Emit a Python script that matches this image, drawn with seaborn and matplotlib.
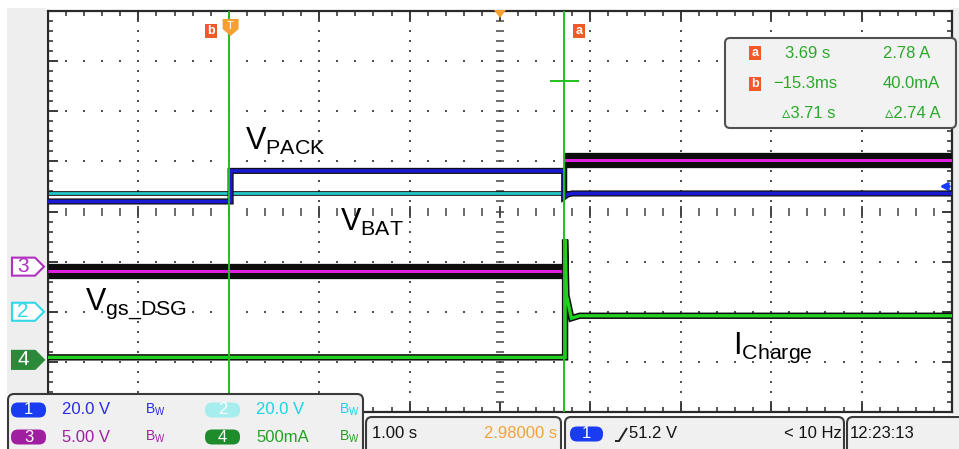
import numpy as np
import pandas as pd
import seaborn as sns
import matplotlib.pyplot as plt
from matplotlib import transforms
from matplotlib.lines import Line2D
from matplotlib.patches import FancyBboxPatch, Polygon, Rectangle

# 스코프 설정: timebase, channel scales, ground markers (div)
t_div = 1.00
t_delay = 2.98
ch1_scale, ch2_scale, ch3_scale, ch4_scale = 20.0, 20.0, 5.00, 0.5
ch1_gnd, ch2_gnd, ch3_gnd, ch4_gnd = -2.06, -2.00, -1.10, -2.96
trig_level = 51.2

# cursors a / b
cur_a_t, cur_b_t = 3.69, -0.0153
cur_a_i, cur_b_i = 2.78, 0.040

# traces
ch1_t = [-2.02, 0.0, 0.0, 3.69, 3.69, 3.73, 3.78, 7.98]
ch1_v = [45.2, 45.2, 57.4, 57.4, 47.0, 48.0, 48.4, 48.4]      # V_PACK
ch2_t = [-2.02, 7.98]
ch2_v = [47.5, 47.5]                                            # V_BAT
ch3_t = [-2.02, 3.69, 3.69, 7.98]
ch3_v = [-0.45, -0.45, 10.65, 10.65]                            # Vgs_DSG
ch3_seg = [0, 0, 1, 1]
ch4_t = [-2.02, 3.70, 3.70, 3.715, 3.77, 3.86, 7.98]
ch4_i = [0.025, 0.025, 1.2, 0.645, 0.415, 0.44, 0.44]           # I_Charge

W, H = 959, 449
sns.set_style('white')
plt.rcParams['font.family'] = ['Liberation Sans', 'DejaVu Sans']
plt.rcParams['mathtext.fontset'] = 'custom'
plt.rcParams['mathtext.rm'] = 'Liberation Sans'
plt.rcParams['lines.solid_capstyle'] = 'butt'
plt.rcParams['lines.solid_joinstyle'] = 'miter'

fig = plt.figure(figsize=(W / 100, H / 100), dpi=100)
fig.patch.set_facecolor('white')
# pixel coords (y down) -> display
px = transforms.Affine2D().scale(0.01, -0.01).translate(0, H / 100) + fig.dpi_scale_trans

ax = fig.add_axes([48 / W, 1 - 412 / H, 904 / W, 401 / H])
t_min, t_max = t_delay - 5 * t_div, t_delay + 5 * t_div


def to_df(t, v, gnd, scale, seg=None):
    df = pd.DataFrame({'t': t, 'div': gnd + np.array(v) / scale})
    df['seg'] = seg if seg is not None else 0
    return df


d1 = to_df(ch1_t, ch1_v, ch1_gnd, ch1_scale)
d2 = to_df(ch2_t, ch2_v, ch2_gnd, ch2_scale)
d3 = to_df(ch3_t, ch3_v, ch3_gnd, ch3_scale, ch3_seg)
d4 = to_df(ch4_t, ch4_i, ch4_gnd, ch4_scale)

# dotted graticule
xs = t_delay + np.arange(-25, 26) * 0.2 * t_div
ys = np.arange(-20, 21) * 0.2
gx, gy = np.meshgrid(xs[1:-1], [-3, -2, -1, 1, 2, 3])
ax.scatter(gx, gy, s=3.5, marker='s', color='#505050', lw=0, zorder=1)
cols = t_delay + np.array([-4, -3, -2, -1, 1, 2, 3, 4]) * t_div
gx, gy = np.meshgrid(cols, ys[1:-1])
ax.scatter(gx, gy, s=3.5, marker='s', color='#505050', lw=0, zorder=1)
ax.scatter(xs[1:-1], np.zeros(len(xs) - 2), marker='|', s=28, lw=1.1, color='#444444', zorder=1)
ax.scatter(xs[5:-1:5], np.zeros(len(xs[5:-1:5])), marker='|', s=70, lw=1.3, color='#444444', zorder=1)
ax.scatter(np.full(len(ys) - 2, t_delay), ys[1:-1], marker='_', s=28, lw=1.1, color='#444444', zorder=1)

# traces (black noise band under each)
sns.lineplot(data=d2, x='t', y='div', estimator=None, sort=False, color='#111111', linewidth=3.4, ax=ax, zorder=2)
sns.lineplot(data=d2, x='t', y='div', estimator=None, sort=False, color='#22c8c8', linewidth=2.0, ax=ax, zorder=2)
sns.lineplot(data=d1, x='t', y='div', estimator=None, sort=False, color='#111111', linewidth=4.4, ax=ax, zorder=3)
sns.lineplot(data=d1, x='t', y='div', estimator=None, sort=False, color='#1a1ad2', linewidth=2.6, ax=ax, zorder=3)
sns.lineplot(data=d3, x='t', y='div', units='seg', estimator=None, sort=False, color='#0d0d0d', linewidth=11,
             ax=ax, zorder=3)
sns.lineplot(data=d3, x='t', y='div', units='seg', estimator=None, sort=False, color='#e020e0', linewidth=2.2,
             ax=ax, zorder=3)
sns.lineplot(data=d4, x='t', y='div', estimator=None, sort=False, color='#0d0d0d', linewidth=4.6, ax=ax, zorder=4)
sns.lineplot(data=d4, x='t', y='div', estimator=None, sort=False, color='#22d022', linewidth=2.4, ax=ax, zorder=4)

# cursors
for ct in (cur_a_t, cur_b_t):
    ax.axvline(ct, color='#1fc01f', lw=1.4, zorder=6)
ya = ch4_gnd + cur_a_i / ch4_scale
ax.plot([cur_a_t - 0.16 * t_div, cur_a_t + 0.16 * t_div], [ya, ya], color='#1fc01f', lw=1.4, zorder=6)

# trigger level arrow (ch1)
lvl = ch1_gnd + trig_level / ch1_scale
ax.annotate('', xy=(t_max - 0.17 * t_div, lvl), xytext=(t_max, lvl),
            arrowprops=dict(arrowstyle='->', color='#1a3cff', lw=2.2), zorder=7)

ax.set_xlim(t_min, t_max)
ax.set_ylim(-4, 4)
ax.set_xlabel('')
ax.set_ylabel('')
ax.set_xticks(t_delay + np.arange(-5, 6) * t_div)
ax.set_xticks(xs, minor=True)
ax.set_yticks(np.arange(-4, 5))
ax.set_yticks(ys, minor=True)
ax.tick_params(which='both', direction='in', top=True, right=True, bottom=True, left=True,
               labelbottom=False, labelleft=False, color='#2a2a2a')
ax.tick_params(which='major', length=7, width=1.3)
ax.tick_params(which='minor', length=3.5, width=1.1)
for s in ax.spines.values():
    s.set_color('#2a2a2a')
    s.set_linewidth(1.6)

# trace labels
ax.text(0.16, 1.23, r'$\mathregular{V_{PACK}}$', fontsize=22, color='black', zorder=8)
ax.text(1.21, -0.39, r'$\mathregular{V_{BAT}}$', fontsize=22, color='black', zorder=8)
ax.text(-1.61, -1.95, r'$\mathregular{V_{gs\_DSG}}$', fontsize=22, color='black', zorder=8)
ax.text(5.56, -2.84, r'$\mathregular{I_{Charge}}$', fontsize=22, color='black', zorder=8)

# --- screen furniture ---
fig.add_artist(Rectangle((7, 8), 39, 386, transform=px, fc='#eeeeee', ec='none', zorder=-1))
fig.add_artist(Rectangle((953, 8), 6, 407, transform=px, fc='#eeeeee', ec='none', zorder=-1))

# channel ground markers on the left
yb = transforms.blended_transform_factory(px, ax.transData)
dh = 9 / 50.1
for gnd, lab, ec, fc, tc in [(ch3_gnd, '3', '#b030c0', 'white', '#b030c0'),
                             (ch2_gnd, '2', '#30d8e8', 'white', '#30d8e8'),
                             (ch4_gnd, '4', '#2a8a3a', '#2a8a3a', 'white')]:
    pts = [(12, gnd - dh), (35, gnd - dh), (44, gnd), (35, gnd + dh), (12, gnd + dh)]
    fig.add_artist(Polygon(pts, closed=True, transform=yb, fc=fc, ec=ec, lw=1.5, zorder=5))
    fig.text(23, gnd, lab, transform=yb, ha='center', va='center', fontsize=15, color=tc, zorder=6)

# top markers
xb = transforms.blended_transform_factory(ax.transData, px)
spp = 10 * t_div / 904


def icon(x, y, lab, trans):
    k = spp if trans is xb else 1
    fig.add_artist(FancyBboxPatch((x - 6 * k, y - 7), 12 * k, 14, boxstyle='square,pad=0', transform=trans,
                                  fc='#f05a28', ec='none', zorder=7))
    fig.text(x, y, lab, transform=trans, ha='center', va='center', fontsize=9, fontweight='bold',
             color='white', zorder=8)


icon(cur_b_t - 18 * spp, 31, 'b', xb)
icon(cur_a_t + 15 * spp, 31, 'a', xb)
tx = 0.0
fig.add_artist(Polygon([(tx - 8 * spp, 19), (tx + 8 * spp, 19), (tx + 8 * spp, 29), (tx, 36), (tx - 8 * spp, 29)],
                       closed=True, transform=xb, fc='#f5a030', ec='none', zorder=7))
fig.text(tx, 26, 'T', transform=xb, ha='center', va='center', fontsize=8, color='white', zorder=8)
fig.add_artist(Polygon([(t_delay - 6 * spp, 10), (t_delay + 6 * spp, 10), (t_delay, 18)],
                       closed=True, transform=xb, fc='#f5a030', ec='none', zorder=7))

# cursor readout box
fig.add_artist(FancyBboxPatch((725, 38), 231, 90, boxstyle='round,pad=0,rounding_size=5', transform=px,
                              fc='#f2f2f2', ec='#505050', lw=1.5, zorder=5))
green = '#2aa82a'
icon(755, 53, 'a', px)
icon(755, 84, 'b', px)
fig.text(785, 53, f'{cur_a_t:.2f} s', transform=px, va='center', fontsize=12, color=green, zorder=8)
fig.text(883, 53, f'{cur_a_i:.2f} A', transform=px, va='center', fontsize=12, color=green, zorder=8)
fig.text(773, 84, f'\u2212{abs(cur_b_t) * 1000:.1f}ms', transform=px, va='center', fontsize=12, color=green, zorder=8)
fig.text(883, 84, f'{cur_b_i * 1000:.1f}mA', transform=px, va='center', fontsize=12, color=green, zorder=8)
fig.text(782, 114, f'\u25b5{cur_a_t - cur_b_t:.2f} s', transform=px, va='center', fontsize=12, color=green, zorder=8)
fig.text(885, 114, f'\u25b5{cur_a_i - cur_b_i:.2f} A', transform=px, va='center', fontsize=12, color=green, zorder=8)

# bottom status bar
box = dict(transform=px, fc='#f0f0f0', ec='#3a3a3a', lw=1.5, zorder=5)
fig.add_artist(FancyBboxPatch((8, 394), 355, 62, boxstyle='round,pad=0,rounding_size=6', **box))
fig.add_artist(FancyBboxPatch((366, 417), 195, 40, boxstyle='round,pad=0,rounding_size=6', **box))
fig.add_artist(FancyBboxPatch((565, 417), 279, 40, boxstyle='round,pad=0,rounding_size=6', **box))
fig.add_artist(FancyBboxPatch((847, 417), 120, 40, boxstyle='round,pad=0,rounding_size=6', **box))


def badge(x0, x1, yc, fc, lab):
    fig.add_artist(FancyBboxPatch((x0, yc - 7.5), x1 - x0, 15, boxstyle='round,pad=0,rounding_size=7',
                                  transform=px, fc=fc, ec='none', zorder=6))
    fig.text((x0 + x1) / 2, yc, lab, transform=px, ha='center', va='center', fontsize=12, color='white', zorder=7)


chans = [('1', 410, 11, '#1a3cf0', f'{ch1_scale:.1f} V', '#2a2ae6'),
         ('2', 410, 205, '#a6eeee', f'{ch2_scale:.1f} V', '#1ad3e6'),
         ('3', 437, 11, '#a01fa0', f'{ch3_scale:.2f} V', '#a020a0'),
         ('4', 437, 205, '#1e8c2a', f'{ch4_scale * 1000:.0f}mA', '#22a022')]
for lab, yc, x0, bc, txt, tc in chans:
    badge(x0, x0 + 35, yc, bc, lab)
    fig.text(x0 + 51, yc, txt, transform=px, va='center', fontsize=12, color=tc, zorder=7)
    fig.text(x0 + 134, yc, r'$\mathregular{B_W}$', transform=px, va='center', fontsize=10, color=tc, zorder=7)

fig.text(372, 434, f'{t_div:.2f} s', transform=px, va='center', fontsize=12, color='#111111', zorder=7)
fig.text(557, 434, f'{t_delay:.5f} s', transform=px, ha='right', va='center', fontsize=12, color='#f2a43a', zorder=7)
badge(570, 603, 434, '#1a3cf0', '1')
fig.add_artist(Line2D([615, 619, 627], [441, 441, 428], transform=px, color='#222222', lw=1.4, zorder=7))
fig.text(629, 434, f'{trig_level:.1f} V', transform=px, va='center', fontsize=12, color='#111111', zorder=7)
fig.text(842, 434, '< 10 Hz', transform=px, ha='right', va='center', fontsize=12, color='#111111', zorder=7)
fig.text(850, 434, '12:23:13', transform=px, va='center', fontsize=12, color='#111111', zorder=7)

fig.savefig('out.png', dpi=100, facecolor='white')
